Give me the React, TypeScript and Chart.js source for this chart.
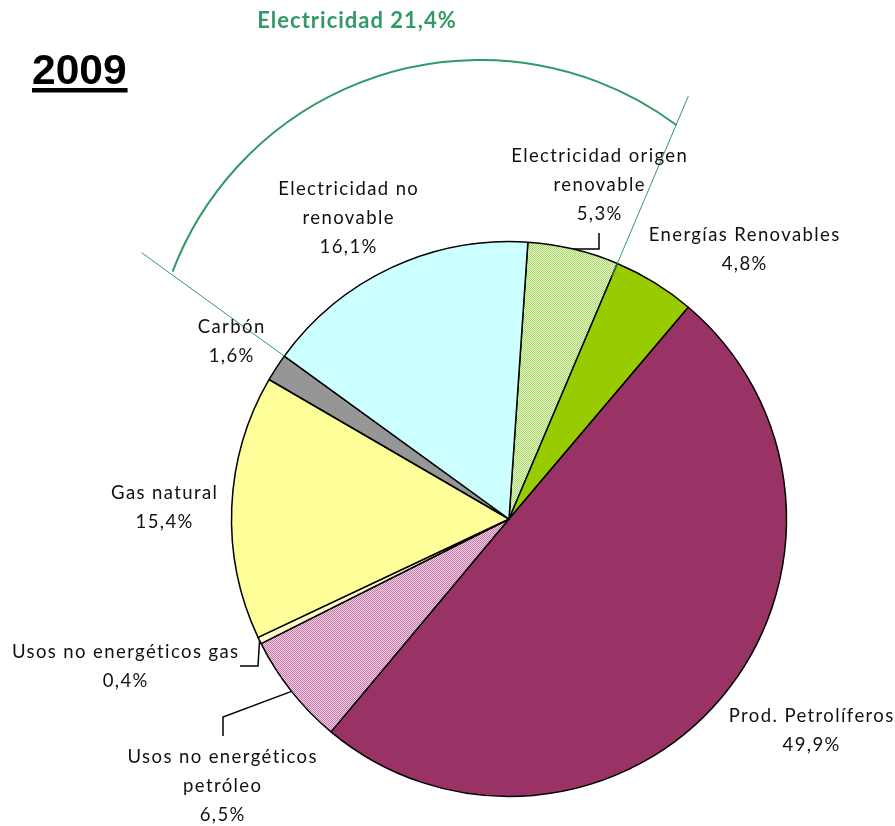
import React, { useEffect, useRef } from "react";
import { Chart, registerables } from "chart.js";

Chart.register(...registerables);

// ---------- data ----------
const categories = [
  "Electricidad origen renovable",
  "Energías Renovables",
  "Prod. Petrolíferos",
  "Usos no energéticos petróleo",
  "Usos no energéticos gas",
  "Gas natural",
  "Carbón",
  "Electricidad no renovable",
];
const labelLines = [
  ["Electricidad origen", "renovable"],
  ["Energías Renovables"],
  ["Prod. Petrolíferos"],
  ["Usos no energéticos", "petróleo"],
  ["Usos no energéticos gas"],
  ["Gas natural"],
  ["Carbón"],
  ["Electricidad no", "renovable"],
];
const shares = [5.3, 4.8, 49.9, 6.5, 0.4, 15.4, 1.6, 16.1];
const pctLabels = ["5,3%", "4,8%", "49,9%", "6,5%", "0,4%", "15,4%", "1,6%", "16,1%"];
const groupTitle = "Electricidad 21,4%";
const yearTitle = "2009";

// ---------- layout / style (not data) ----------
// label anchor: centre x and first baseline, offset from pie centre (px)
const labelPos = [
  [90, -357],
  [235, -278],
  [302, 203],
  [-287, 244],
  [-384, 139],
  [-345, -20],
  [-278, -186],
  [-161, -324],
];
const LINE_H = 29;
// leader lines: points after the slice anchor, offset from pie centre
const leaders: Record<number, number[][]> = {
  0: [[90, -270], [90, -286]],
  3: [[-286, 198], [-286, 217]],
  4: [[-251, 147], [-269, 147]],
};
const GREEN = "#339966";

function makePattern(a: string, b: string) {
  const c = document.createElement("canvas");
  c.width = 2;
  c.height = 2;
  const g = c.getContext("2d")!;
  g.fillStyle = a;
  g.fillRect(0, 0, 2, 2);
  g.fillStyle = b;
  g.fillRect(0, 0, 1, 1);
  g.fillRect(1, 1, 1, 1);
  return g.createPattern(c, "repeat")!;
}

const annotations = {
  id: "annotations",
  afterDraw(chart: any) {
    const ctx = chart.ctx as CanvasRenderingContext2D;
    const meta = chart.getDatasetMeta(0);
    const arcs = meta.data as any[];
    const a0 = arcs[0];
    const cx = a0.x;
    const cy = a0.y;
    const R = a0.outerRadius;
    ctx.save();

    // green bracket for the electricity group
    const angL = arcs[7].startAngle;
    const angR = arcs[0].endAngle;
    ctx.strokeStyle = GREEN;
    ctx.lineWidth = 1;
    ctx.beginPath();
    ctx.moveTo(cx + R * Math.cos(angL), cy + R * Math.sin(angL));
    ctx.lineTo(cx + 1.635 * R * Math.cos(angL), cy + 1.635 * R * Math.sin(angL));
    ctx.moveTo(cx + 0.95 * R * Math.cos(angR), cy + 0.95 * R * Math.sin(angR));
    ctx.lineTo(cx + 1.655 * R * Math.cos(angR), cy + 1.655 * R * Math.sin(angR));
    ctx.stroke();
    ctx.lineWidth = 2;
    ctx.beginPath();
    ctx.arc(cx - 0.1045 * R, cy - 0.468 * R, 1.186 * R, (200.9 * Math.PI) / 180, (306.7 * Math.PI) / 180);
    ctx.stroke();

    // leader lines
    ctx.strokeStyle = "#000";
    ctx.lineWidth = 1.5;
    Object.keys(leaders).forEach((k) => {
      const i = Number(k);
      const arc = arcs[i];
      const mid = (arc.startAngle + arc.endAngle) / 2;
      ctx.beginPath();
      ctx.moveTo(cx + R * Math.cos(mid), cy + R * Math.sin(mid));
      leaders[i].forEach(([dx, dy]) => ctx.lineTo(cx + dx, cy + dy));
      ctx.stroke();
    });

    // slice labels
    ctx.fillStyle = "#111";
    ctx.textAlign = "center";
    ctx.textBaseline = "alphabetic";
    ctx.font = "18.5px Lato";
    (ctx as any).letterSpacing = "1.4px";
    labelLines.forEach((lines, i) => {
      const [dx, dy] = labelPos[i];
      const all = [...lines, pctLabels[i]];
      all.forEach((t, j) => {
        ctx.fillText(t, cx + dx + 0.7, cy + dy + j * LINE_H);
      });
    });

    // group title
    ctx.fillStyle = GREEN;
    ctx.font = "bold 22px Lato";
    (ctx as any).letterSpacing = "1px";
    ctx.fillText(groupTitle, 357, 28);

    // year title
    (ctx as any).letterSpacing = "0px";
    ctx.fillStyle = "#000";
    ctx.textAlign = "left";
    ctx.font = "bold 42.5px 'Liberation Sans', Arial";
    ctx.fillText(yearTitle, 32, 84);
    const w = ctx.measureText(yearTitle).width;
    ctx.fillRect(32, 88, w + 1, 4.5);

    ctx.restore();
  },
};

export default function App() {
  const ref = useRef<HTMLCanvasElement>(null);
  useEffect(() => {
    const canvas = ref.current!;
    const colors = [
      makePattern("#e6f7c8", "#a9d66c"),
      "#99cc00",
      "#993366",
      makePattern("#f3d0e6", "#c47aa5"),
      "#fffcc8",
      "#ffff99",
      "#969696",
      "#ccffff",
    ];
    const chart = new Chart(canvas, {
      type: "pie",
      data: {
        labels: categories,
        datasets: [
          {
            data: shares,
            backgroundColor: colors as any,
            borderColor: "#000",
            borderWidth: 1.5,
          },
        ],
      },
      options: {
        responsive: false,
        animation: false,
        devicePixelRatio: 1,
        rotation: 3.9,
        layout: { padding: { left: 230.75, right: 107.75, top: 240.75, bottom: 28.75 } },
        plugins: {
          legend: { display: false },
          tooltip: { enabled: false },
          title: { display: false },
        },
      },
      plugins: [annotations],
    });
    return () => chart.destroy();
  }, []);
  return (
    <div style={{ position: "fixed", left: 0, top: 0, width: 895, height: 826, background: "#fff" }}>
      <canvas ref={ref} width={895} height={826} style={{ display: "block" }} />
    </div>
  );
}
